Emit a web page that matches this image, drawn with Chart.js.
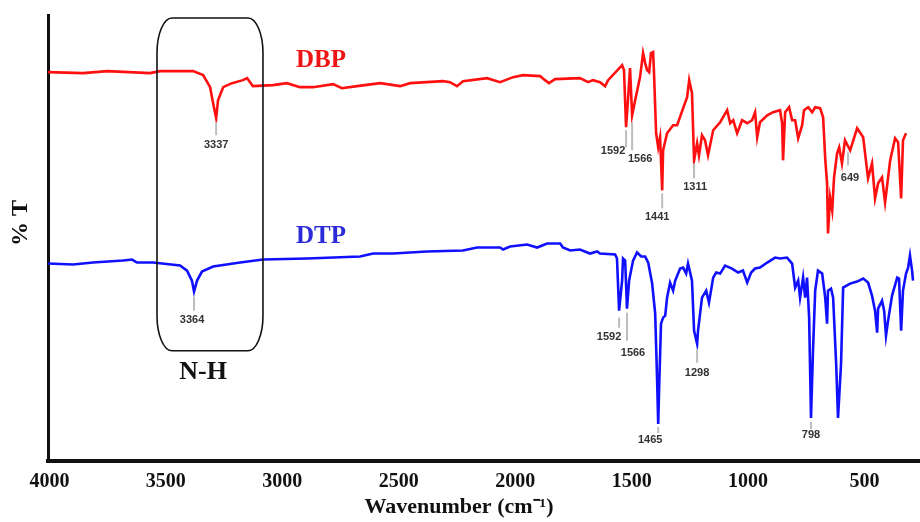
<!DOCTYPE html>
<html>
<head>
<meta charset="utf-8">
<script src="https://cdn.jsdelivr.net/npm/chart.js@4/dist/chart.umd.min.js"></script>
<style>
  html, body { margin: 0; padding: 0; background: #fff; }
  canvas { display: block; }
</style>
</head>
<body>
<canvas id="ftir" width="920" height="522"></canvas>
<script>
// FT-IR spectra of DBP and DTP (arbitrary %T units)
const xTickValues = [4000, 3500, 3000, 2500, 2000, 1500, 1000, 500];

const dbpWave = [4006,3856,3752,3568,3525,3383,3340,3310,3297,3284,
  3276,3254,3216,3169,3151,3126,3040,2980,2924,2868,
  2782,2744,2679,2580,2494,2451,2310,2280,2250,2224,
  2121,2065,2009,1966,1893,1872,1855,1829,1722,1687,
  1666,1636,1614,1601,1541,1533,1524,1515,1507,1498,
  1485,1464,1451,1442,1434,1425,1417,1408,1404,1395,
  1386,1378,1369,1365,1348,1322,1305,1262,1253,1241,
  1232,1219,1211,1198,1185,1172,1150,1120,1090,1077,
  1064,1047,1026,1004,983,970,961,949,918,893,
  863,854,850,841,824,811,798,785,768,760,
  742,725,712,691,678,669,661,657,648,639,
  631,618,609,597,584,562,532,506,485,468,
  455,442,425,412,390,369,356,343,335,322];
const dbpT = [388,387,389,387,389,389,385,373,357,342,
  360,373,377,380,382,374,375,377,373,373,
  376,372,374,377,374,377,379,378,374,379,
  382,378,383,385,384,380,377,381,382,378,
  380,378,374,380,395,390,333,363,392,345,
  360,383,407,397,390,388,407,408,387,327,
  313,323,270,310,327,335,335,363,380,367,
  300,317,305,325,320,305,330,338,350,337,
  340,327,340,337,340,348,323,338,345,348,
  350,337,300,348,353,340,340,322,335,350,
  353,348,353,352,343,302,277,227,263,250,
  283,307,313,297,320,310,332,323,282,297,
  262,277,283,258,300,322,318,262,320,327];

const dtpWave = [4006,3899,3813,3684,3645,3624,3555,3439,3409,3388,
  3379,3366,3345,3297,3181,3083,2894,2666,2610,2525,
  2379,2224,2164,2065,2052,2022,1949,1906,1863,1807,
  1795,1764,1722,1679,1648,1636,1571,1563,1554,1541,
  1537,1528,1520,1511,1494,1477,1459,1442,1429,1412,
  1399,1391,1386,1382,1374,1365,1356,1348,1335,1322,
  1313,1292,1279,1266,1258,1241,1232,1219,1215,1198,
  1180,1168,1150,1137,1120,1099,1069,1043,1022,1004,
  987,970,949,918,884,863,833,811,798,785,
  777,764,755,747,738,730,721,712,700,682,
  669,661,657,644,635,622,614,601,592,562,
  532,506,485,468,455,446,442,425,416,408,
  399,382,360,352,343,335,322,313,305,296,
  292];
const dtpT = [197,196,198,200,201,198,198,195,190,180,
  169,180,189,194,198,201,202,204,207,207,
  209,210,213,213,211,214,216,213,217,217,
  213,210,211,207,209,207,206,202,150,180,
  202,200,152,180,200,208,204,204,198,177,
  147,83,37,73,137,143,145,163,178,170,
  180,192,193,187,197,180,130,117,130,163,
  170,158,183,188,187,195,192,188,190,178,
  188,192,193,198,203,202,203,197,173,180,
  163,183,163,183,143,43,113,170,190,187,
  163,137,170,172,163,97,43,97,173,177,
  179,182,178,165,150,128,152,160,150,125,
  140,165,183,182,130,170,187,193,205,190,
  180];

// peak labels printed under the dips
const dbpPeakText = ['3337', '1592', '1566', '1441', '1311', '649'];
const dbpPeakWave = [3284, 1524, 1498, 1369, 1232, 571];
const dtpPeakText = ['3364', '1592', '1566', '1465', '1298', '798'];
const dtpPeakWave = [3379, 1554, 1520, 1386, 1219, 730];

// where each peak label sits: [tick top, tick bottom, text y] in T units, text dx in px
const dbpPeakPos = [[338, 325, 315, 0], [330, 313, 309, -13], [338, 310, 301, 8],
  [267, 252, 243, -5], [297, 282, 273, 1], [308, 295, 282, 2]];
const dtpPeakPos = [[164, 150, 141, -2], [143, 133, 124, -10], [148, 120, 108, 6],
  [34, 28, 21, -8], [112, 98, 88, 0], [39, 32, 26, 0]];

const toPoints = (xs, ys) => xs.map((v, i) => ({ x: v, y: ys[i] }));

const serif = '"Liberation Serif", "Times New Roman", serif';

// box, names, peak labels and axis titles drawn on top of the spectra
const annotate = {
  id: 'annotate',
  afterDatasetsDraw(chart) {
    const { ctx, chartArea, scales: { x, y } } = chart;
    ctx.save();

    // rounded box round the N-H band
    const l = x.getPixelForValue(3538), r = x.getPixelForValue(3083);
    const t = y.getPixelForValue(442), b = y.getPixelForValue(110);
    const rx = 15, ry = 35;
    ctx.beginPath();
    ctx.moveTo(l + rx, t);
    ctx.lineTo(r - rx, t);
    ctx.ellipse(r - rx, t + ry, rx, ry, 0, -Math.PI / 2, 0);
    ctx.lineTo(r, b - ry);
    ctx.ellipse(r - rx, b - ry, rx, ry, 0, 0, Math.PI / 2);
    ctx.lineTo(l + rx, b);
    ctx.ellipse(l + rx, b - ry, rx, ry, 0, Math.PI / 2, Math.PI);
    ctx.lineTo(l, t + ry);
    ctx.ellipse(l + rx, t + ry, rx, ry, 0, Math.PI, Math.PI * 1.5);
    ctx.strokeStyle = '#111';
    ctx.lineWidth = 1.6;
    ctx.stroke();

    ctx.textAlign = 'center';
    ctx.textBaseline = 'middle';
    ctx.font = 'bold 26px ' + serif;
    ctx.fillStyle = '#111';
    ctx.fillText('N-H', x.getPixelForValue(3340), y.getPixelForValue(89));

    ctx.font = 'bold 25px ' + serif;
    ctx.fillStyle = '#ee1515';
    ctx.fillText('DBP', x.getPixelForValue(2834), y.getPixelForValue(400));
    ctx.fillStyle = '#2b2bd8';
    ctx.fillText('DTP', x.getPixelForValue(2834), y.getPixelForValue(224));

    // peak ticks and numbers
    const drawPeaks = (texts, waves, pos) => {
      texts.forEach((txt, i) => {
        const px = x.getPixelForValue(waves[i]);
        const [y1, y2, ty, dx] = pos[i];
        ctx.beginPath();
        ctx.moveTo(px, y.getPixelForValue(y1));
        ctx.lineTo(px, y.getPixelForValue(y2));
        ctx.strokeStyle = '#bdbdbd';
        ctx.lineWidth = 2;
        ctx.stroke();
        ctx.font = 'bold 11px "Liberation Sans", Arial, sans-serif';
        ctx.fillStyle = '#333';
        ctx.fillText(txt, px + dx, y.getPixelForValue(ty));
      });
    };
    drawPeaks(dbpPeakText, dbpPeakWave, dbpPeakPos);
    drawPeaks(dtpPeakText, dtpPeakWave, dtpPeakPos);

    // x axis title
    ctx.font = 'bold 22px ' + serif;
    ctx.fillStyle = '#111';
    ctx.fillText('Wavenumber (cm\u207B\u00B9)', 459, 507);

    // y axis title
    ctx.translate(chartArea.left - 27, 223);
    ctx.rotate(-Math.PI / 2);
    ctx.font = 'bold 24px ' + serif;
    ctx.fillText('% T', 0, 0);
    ctx.restore();
  }
};

new Chart(document.getElementById('ftir'), {
  type: 'line',
  data: {
    datasets: [
      {
        label: 'DBP',
        data: toPoints(dbpWave, dbpT),
        borderColor: '#ff1010',
        borderWidth: 2.6,
        pointRadius: 0,
        tension: 0
      },
      {
        label: 'DTP',
        data: toPoints(dtpWave, dtpT),
        borderColor: '#1010ff',
        borderWidth: 2.6,
        pointRadius: 0,
        tension: 0
      }
    ]
  },
  options: {
    responsive: false,
    animation: false,
    devicePixelRatio: 1,
    layout: { padding: { left: 48, top: 15, right: 0, bottom: 19 } },
    plugins: {
      legend: { display: false },
      tooltip: { enabled: false }
    },
    scales: {
      x: {
        type: 'linear',
        reverse: true,
        min: 262,
        max: 4006,
        afterBuildTicks: (axis) => { axis.ticks = xTickValues.map(v => ({ value: v })); },
        ticks: {
          autoSkip: false,
          maxRotation: 0,
          padding: 9,
          color: '#111',
          font: { family: serif, size: 20, weight: 'bold' },
          callback: (v) => String(v)
        },
        grid: { display: false, drawTicks: false },
        border: { display: true, color: '#111', width: 4 }
      },
      y: {
        min: 0,
        max: 445,
        ticks: { display: false },
        grid: { display: false, drawTicks: false },
        border: { display: true, color: '#111', width: 3 }
      }
    }
  },
  plugins: [annotate]
});
</script>
</body>
</html>
